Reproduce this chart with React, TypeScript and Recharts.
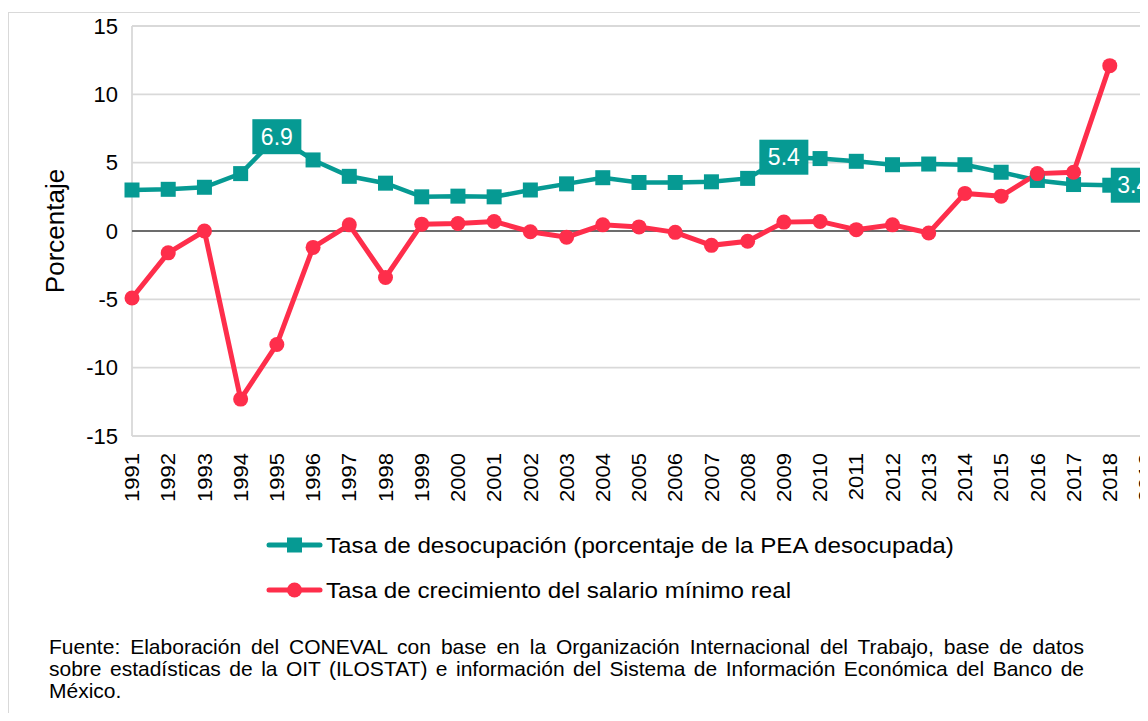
import React from "react";
import {
  LineChart,
  Line,
  XAxis,
  YAxis,
  CartesianGrid,
  ReferenceLine,
  Legend,
  LabelList,
  Label,
} from "recharts";

const years = [
  "1991", "1992", "1993", "1994", "1995", "1996", "1997", "1998", "1999", "2000",
  "2001", "2002", "2003", "2004", "2005", "2006", "2007", "2008", "2009", "2010",
  "2011", "2012", "2013", "2014", "2015", "2016", "2017", "2018", "2019",
];

// tasa de desocupación (% de la PEA)
const unemployment = [
  3.0, 3.05, 3.2, 4.2, 6.9, 5.2, 4.0, 3.5, 2.5, 2.55,
  2.5, 3.0, 3.45, 3.9, 3.55, 3.55, 3.6, 3.85, 5.4, 5.3,
  5.1, 4.85, 4.9, 4.85, 4.3, 3.7, 3.4, 3.35, null,
];

// crecimiento del salario mínimo real (%)
const wageGrowth = [
  -4.9, -1.6, 0.0, -12.3, -8.3, -1.2, 0.45, -3.4, 0.5, 0.55,
  0.7, -0.05, -0.45, 0.45, 0.3, -0.1, -1.05, -0.75, 0.65, 0.7,
  0.1, 0.45, -0.15, 2.75, 2.55, 4.2, 4.3, 12.1, null,
];

const yTicks = [-15, -10, -5, 0, 5, 10, 15];

const labeledYears = ["1995", "2009", "2018"];
const labelSides = ["center", "center", "right"];

const seriesNames = [
  "Tasa de desocupación (porcentaje de la PEA desocupada)",
  "Tasa de crecimiento del salario mínimo real",
];

const footnoteLines = [
  "Fuente: Elaboración del CONEVAL con base en la Organización Internacional del Trabajo, base de datos",
  "sobre estadísticas de la OIT (ILOSTAT) e información del Sistema de Información Económica del Banco de",
  "México.",
];

const TEAL = "#069a93";
const RED = "#fe2e4b";
const GRID = "#d9d9d9";
const FONT = "'Liberation Sans', Arial, sans-serif";

const data = years.map((year, i) => ({
  year,
  unemployment: unemployment[i],
  wage: wageGrowth[i],
}));

function YearTick(props: any) {
  const { x, y, payload } = props;
  return (
    <text
      transform={`translate(${x},${y}) rotate(-90) scale(1.1,1)`}
      textAnchor="end"
      dy="0.36em"
      fontSize={20}
      fill="#000"
      fontFamily={FONT}
    >
      {payload.value}
    </text>
  );
}

function SquareDot(props: any) {
  const { cx, cy, index } = props;
  if (cx == null || cy == null || props.value == null) return <g key={`sq-${index}`} />;
  return <rect key={`sq-${index}`} x={cx - 7.5} y={cy - 7.5} width={15} height={15} fill={TEAL} />;
}

function ValueBox(props: any) {
  const { x, y, value, index } = props;
  const k = labeledYears.indexOf(years[index]);
  if (k < 0 || value == null) return null;
  const w = 49;
  const h = 35;
  const cx = labelSides[k] === "right" ? x + 1 + w / 2 : x;
  return (
    <g>
      <rect x={cx - w / 2} y={y - h / 2} width={w} height={h} fill={TEAL} />
      <text
        x={cx - (labelSides[k] === "right" ? 2 : 0)}
        y={y}
        textAnchor="middle"
        dominantBaseline="central"
        fill="#fff"
        fontSize={23}
        fontFamily={FONT}
      >
        {Number(value).toFixed(1)}
      </text>
    </g>
  );
}

function LegendBox(props: any) {
  // keep the series order of the original legend
  const items = [...(props.payload || [])].sort(
    (a: any, b: any) => seriesNames.indexOf(a.value) - seriesNames.indexOf(b.value)
  );
  return (
    <svg width={1140} height={100} style={{ display: "block" }}>
      {items.map((item: any, i: number) => {
        const cy = 37 + i * 45;
        const isTeal = item.value === seriesNames[0];
        return (
          <g key={item.value}>
            <line x1={261} x2={312} y1={cy} y2={cy} stroke={item.color} strokeWidth={5} strokeLinecap="round" />
            {isTeal ? (
              <rect x={279} y={cy - 7.5} width={15} height={15} fill={item.color} />
            ) : (
              <circle cx={286.5} cy={cy} r={7.5} fill={item.color} />
            )}
            <text
              transform={`translate(318,${cy}) scale(1.1,1)`}
              dominantBaseline="central"
              fontSize={22}
              fill="#000"
              fontFamily={FONT}
            >
              {item.value}
            </text>
          </g>
        );
      })}
    </svg>
  );
}

export default function App() {
  return (
    <div style={{ position: "relative", width: 1140, height: 705, overflow: "hidden", fontFamily: FONT }}>
      <div
        style={{
          position: "absolute",
          left: 0,
          top: 4,
          width: 1300,
          height: 900,
          border: `1px solid ${GRID}`,
          boxSizing: "border-box",
        }}
      />
      <div style={{ position: "absolute", left: 0, top: 0 }}>
        <LineChart
          width={1140}
          height={620}
          data={data}
          margin={{ top: 18, right: 2, bottom: 112, left: 0 }}
        >
          <CartesianGrid vertical={false} stroke={GRID} strokeWidth={1.8} />
          <XAxis
            dataKey="year"
            axisLine={false}
            tickLine={false}
            tickSize={0}
            tickMargin={17}
            interval={0}
            height={80}
            tick={<YearTick />}
          />
          <YAxis
            domain={[-15, 15]}
            ticks={yTicks}
            axisLine={false}
            tickLine={false}
            tickSize={0}
            tickMargin={14}
            width={124}
            tick={{ fill: "#000", fontSize: 22, fontFamily: FONT }}
          >
            <Label
              content={(p: any) => {
                const vb = p.viewBox || {};
                const cx = (vb.x || 0) + 47;
                const cy = (vb.y || 0) + (vb.height || 0) / 2;
                return (
                  <text
                    transform={`translate(${cx},${cy}) rotate(-90)`}
                    textAnchor="middle"
                    dominantBaseline="central"
                    fontSize={26}
                    fill="#000"
                    fontFamily={FONT}
                  >
                    Porcentaje
                  </text>
                );
              }}
            />
          </YAxis>
          <ReferenceLine x={years[0]} stroke={GRID} strokeWidth={1.8} />
          <ReferenceLine x={years[years.length - 1]} stroke={GRID} strokeWidth={1.8} />
          <ReferenceLine y={0} stroke="#000" strokeWidth={1.2} />
          <Legend
            layout="horizontal"
            verticalAlign="middle"
            align="center"
            content={<LegendBox />}
            wrapperStyle={{ top: 500, left: 0, width: 1140, height: 100 }}
          />
          <Line
            type="linear"
            dataKey="unemployment"
            name={seriesNames[0]}
            stroke={TEAL}
            strokeWidth={4.5}
            dot={<SquareDot />}
            activeDot={false}
            isAnimationActive={false}
          >
            <LabelList dataKey="unemployment" content={<ValueBox />} />
          </Line>
          <Line
            type="linear"
            dataKey="wage"
            name={seriesNames[1]}
            stroke={RED}
            strokeWidth={5}
            dot={{ r: 7.5, fill: RED, stroke: RED, strokeWidth: 0 }}
            activeDot={false}
            isAnimationActive={false}
          />
        </LineChart>
      </div>
      <div
        style={{
          position: "absolute",
          left: 41,
          top: 628,
          width: 1035,
          fontSize: 21,
          lineHeight: "22.2px",
          color: "#000",
        }}
      >
        {footnoteLines.map((line, i) => (
          <div
            key={i}
            style={{
              whiteSpace: "nowrap",
              textAlign: i < footnoteLines.length - 1 ? "justify" : "left",
              textAlignLast: i < footnoteLines.length - 1 ? "justify" : "auto",
            }}
          >
            {line}
          </div>
        ))}
      </div>
    </div>
  );
}
